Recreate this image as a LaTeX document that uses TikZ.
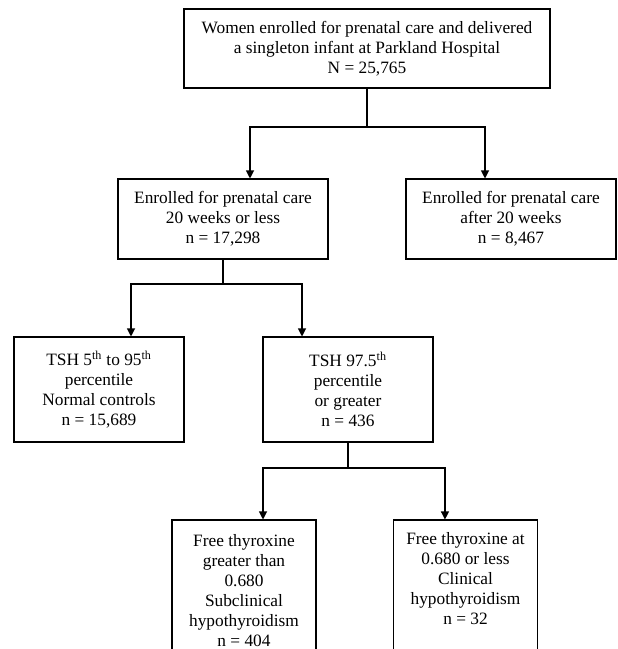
\documentclass[tikz,border=0pt]{standalone}
\usepackage{fontspec}
\setmainfont{Liberation Serif}
\usetikzlibrary{arrows.meta,positioning}

\begin{document}
\begin{tikzpicture}[
 x=0.75pt,y=-0.75pt,
 box/.style={draw,line width=0.8pt,align=center,inner sep=2pt,
 font=\fontsize{13}{15}\selectfont},
 topbox/.style={box,minimum width=274.5pt,minimum height=59.25pt},
 midbox/.style={box,minimum width=157.5pt,minimum height=60pt},
 tshbox/.style={box,minimum width=127.5pt,minimum height=78.75pt},
 lowbox/.style={box,minimum width=108pt,minimum height=106.5pt},
 arr/.style={-{Triangle[length=6pt,width=6pt]},line width=0.8pt}]
\useasboundingbox (0,0) rectangle (617,649);
\clip (0,0) rectangle (617,649);
\node[topbox] (all) at (367,48.5) {Women enrolled for prenatal care and delivered\\a singleton infant at Parkland Hospital\\N = 25,765};
\node[midbox] (early) at (223,219) {Enrolled for prenatal care\\20 weeks or less\\n = 17,298};
\node[midbox] (late) at (511,219) {Enrolled for prenatal care\\after 20 weeks\\n = 8,467};
\node[tshbox] (normal) at (99,389.5) {TSH 5\textsuperscript{th} to 95\textsuperscript{th}\\percentile\\Normal controls\\n = 15,689};
\node[tshbox] (high) at (348,389.5) {TSH 97.5\textsuperscript{th}\\percentile\\or greater\\n = 436};
\node[lowbox] (subclin) at (244,591) {Free thyroxine\\greater than\\0.680\\Subclinical\\hypothyroidism\\n = 404};
\node[lowbox] (clin) at (465.5,591) {Free thyroxine at\\0.680 or less\\Clinical\\hypothyroidism\\n = 32\\\strut};
\coordinate (split1) at (367,127);
\coordinate (split2) at (223,284);
\coordinate (split3) at (348,468);
\draw[arr] (all.south) -- (split1) -| ([xshift=20.25pt]early.north);
\draw[arr] (split1) -| ([xshift=-19.5pt]late.north);
\draw[arr] (early.south) -- (split2) -| ([xshift=24pt]normal.north);
\draw[arr] (split2) -| ([xshift=-34.5pt]high.north);
\draw[arr] (high.south) -- (split3) -| ([xshift=14.25pt]subclin.north);
\draw[arr] (split3) -| ([xshift=-15.4pt]clin.north);
\end{tikzpicture}
\end{document}
